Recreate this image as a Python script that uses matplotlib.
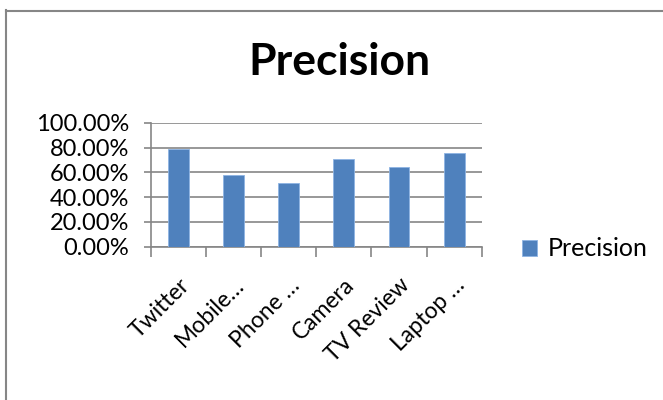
import matplotlib
matplotlib.use("Agg")
import matplotlib.pyplot as plt
from matplotlib.lines import Line2D
from matplotlib.ticker import FuncFormatter, FixedLocator

categories = ["Twitter", "Mobile…", "Phone …", "Camera", "TV Review", "Laptop …"]
precision = [0.785, 0.576, 0.514, 0.707, 0.64, 0.753]
series_name = "Precision"
yticks = [0.0, 0.2, 0.4, 0.6, 0.8, 1.0]

W, H = 663, 400
fig = plt.figure(figsize=(W / 100, H / 100), dpi=100)
plt.rcParams['font.family'] = ['Lato', 'DejaVu Sans']

ax = fig.add_axes([151 / W, 1 - 246.7 / H, (481.7 - 151) / W, (246.7 - 122.7) / H])
x = list(range(len(categories)))
bars = ax.bar(x, precision, width=0.38, color="#4f81bd", edgecolor="#8eb4e3", linewidth=0.6,
              label=series_name, zorder=3)
ax.set_xlim(-0.5, len(categories) - 0.5)
ax.set_ylim(0, 1.0)
ax.set_yticks(yticks)
ax.yaxis.set_major_formatter(FuncFormatter(lambda v, p: f"{v*100:.2f}%"))
ax.grid(axis="y", color="#868686", linewidth=1.2, zorder=0)
ax.set_xticks(x)
ax.set_xticklabels(categories, rotation=45, ha="right", va="top", rotation_mode="anchor", fontsize=16.5)
ax.xaxis.set_minor_locator(FixedLocator([i - 0.5 for i in range(len(categories) + 1)]))
ax.tick_params(axis="x", which="major", length=0, pad=20)
ax.tick_params(axis="x", which="minor", length=7, width=1.2, color="#868686", direction="out")
ax.tick_params(axis="y", length=5, width=1.2, color="#868686", labelsize=17, pad=11)
for s in ["top", "right"]:
    ax.spines[s].set_visible(False)
for s in ["left", "bottom"]:
    ax.spines[s].set_color("#868686")
    ax.spines[s].set_linewidth(1.2)

fig.text(339 / W, 1 - 62 / H, "Precision", ha="center", va="center", fontsize=32, fontweight="bold")

leg = fig.legend(handles=[bars], labels=[series_name], loc="center left",
                 bbox_to_anchor=(522 / W, 1 - 249 / H), frameon=False, fontsize=18,
                 handlelength=0.6, handleheight=0.6, handletextpad=0.45,
                 borderpad=0, borderaxespad=0)

fig.add_artist(Line2D([5.5 / W, 5.5 / W], [0, 1 - 10 / H], color="#868686", linewidth=1.5, transform=fig.transFigure))
fig.add_artist(Line2D([5.5 / W, 1], [1 - 10.5 / H, 1 - 10.5 / H], color="#868686", linewidth=1.5, transform=fig.transFigure))

fig.savefig("out.png", dpi=100)
